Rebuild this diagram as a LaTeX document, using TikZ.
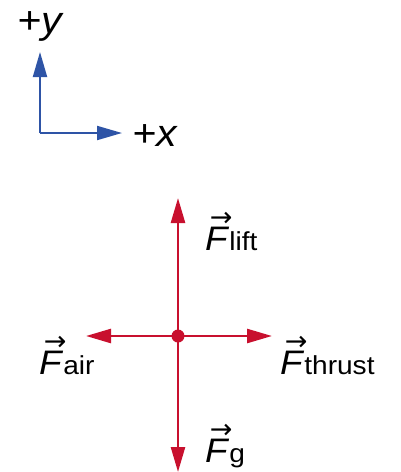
\documentclass[tikz,border=0pt]{standalone}
\usepackage{fontspec}
\setmainfont[FakeStretch=1.08]{Liberation Sans}
\newfontfamily\arrowfont{DejaVu Sans}
\usetikzlibrary{arrows.meta}
\definecolor{forcered}{RGB}{200,16,46}
\definecolor{axisblue}{RGB}{46,84,166}
\newcommand{\fvec}[1]{\rlap{\raisebox{0.68em}{\kern0.14em\fontsize{27}{27}\arrowfont →}}\textit{F}\fontsize{26}{30}\selectfont #1}
\tikzset{
  force/.style={draw=forcered, line width=2.5pt, -{Triangle[length=25pt,width=14pt]}},
  axis/.style={draw=axisblue, line width=2pt, -{Triangle[length=25pt,width=14pt]}},
  flabel/.style={anchor=base west, inner sep=0pt, font=\fontsize{34}{40}\selectfont},
  alabel/.style={anchor=base west, inner sep=0pt, font=\fontsize{38}{44}\selectfont\itshape}
}
\begin{document}
\begin{tikzpicture} [x=1pt, y=-1pt]
\useasboundingbox (0,0) rectangle (400,472);

% axes
\coordinate (origin) at (40,133);
\coordinate (ytip) at (40,52);
\coordinate (xtip) at (122,133);
\draw[axis] (origin) -- (ytip);
\draw[axis] (origin) -- (xtip);
\node[alabel] (ylabel) at (17,33) {+y};
\node[alabel] (xlabel) at (132,146) {+x};

% forces
\node[fill=forcered, circle, inner sep=0pt, minimum size=13pt] (body) at (178,336) {};
\coordinate (lift) at (178,198);
\coordinate (weight) at (178,472);
\coordinate (air) at (86,336);
\coordinate (thrust) at (272,336);
\draw[force] (body.center) -- (lift);
\draw[force] (body.center) -- (weight);
\draw[force] (body.center) -- (air);
\draw[force] (body.center) -- (thrust);

\node[flabel] (Flift) at (205,250) {\fvec{lift}};
\node[flabel] (Fthrust) at (280,374) {\fvec{thrust}};
\node[flabel] (Fair) at (39,374) {\fvec{air}};
\node[flabel] (Fg) at (205,462) {\fvec{g}};
\end{tikzpicture}
\end{document}
